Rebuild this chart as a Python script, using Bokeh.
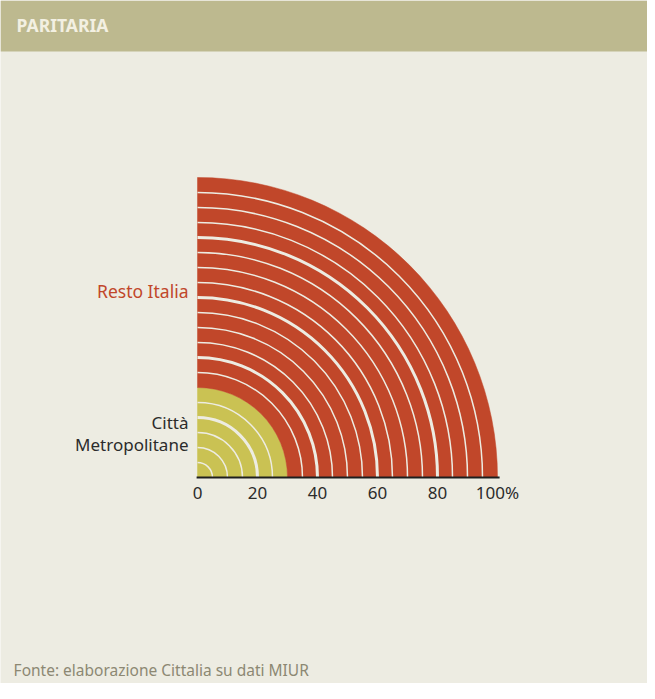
import math
from bokeh.plotting import figure
from bokeh.models import BoxAnnotation
from bokeh.core.properties import value
from bokeh.embed import file_html
from bokeh.resources import INLINE

# ---- data ----
categories = ["Città Metropolitane", "Resto Italia"]
shares = [30, 70]                      # percent
ring_step = 5                          # each ring = 5%
tick_values = [0, 20, 40, 60, 80, 100]
tick_labels = ["0", "20", "40", "60", "80", "100%"]
title_text = "PARITARIA"
source_text = "Fonte: elaborazione Cittalia su dati MIUR"

# ---- style ----
RED = "#C1472A"
YELLOW = "#CAC253"
BG = "#EDECE2"
HEADER = "#BDB98F"
HEADER_TXT = "#F3F0E2"
DARK = "#2B2B2B"
GREY = "#8C8873"
FONT = "Noto Sans"

W, H = 647, 683
# 3 px per percent, origin placed inside the canvas
x0, x1 = -197 / 3, 450 / 3
y0, y1 = -206 / 3, 477 / 3

p = figure(width=W, height=H, x_range=(x0, x1), y_range=(y0, y1),
           output_backend="svg", toolbar_location=None,
           x_axis_location=None, y_axis_location=None,
           min_border=0, outline_line_color=None,
           background_fill_color=BG, border_fill_color=BG)
p.grid.visible = False

# header band
p.add_layout(BoxAnnotation(bottom=142, fill_color=HEADER, fill_alpha=1,
                           line_alpha=0, level="underlay"))
p.text(x=[-60.3], y=[150.8], text=[title_text], text_font=value(FONT),
       text_font_style="bold", text_font_size="17.5px", text_color=HEADER_TXT,
       text_baseline="middle", text_align="left")

# rings
total = sum(shares)
cum = 0
inner, outer, colors = [], [], []
bounds = [0]
for s in shares:
    cum += s
    bounds.append(cum)
seg_colors = [YELLOW, RED]
r = 0
while r < total:
    inner.append(r)
    outer.append(r + ring_step)
    mid = r + ring_step / 2
    for i in range(len(shares)):
        if bounds[i] <= mid < bounds[i + 1]:
            colors.append(seg_colors[i])
    r += ring_step

p.annular_wedge(x=0, y=0, inner_radius=inner, outer_radius=outer,
                start_angle=0, end_angle=math.pi / 2,
                fill_color=colors, line_color=colors, line_width=0.5)

# separators between rings (none at the category boundary)
gap_r, gap_w = [], []
for rr in outer[:-1]:
    if rr in bounds:
        continue
    gap_r.append(rr)
    gap_w.append(3 if rr in tick_values else 1.5)
p.arc(x=0, y=0, radius=gap_r, start_angle=0, end_angle=math.pi / 2,
      line_color=BG, line_width=gap_w)

# baseline axis
p.segment(x0=[tick_values[0] - 0.3], y0=[0], x1=[tick_values[-1] + 0.7], y1=[0],
          line_color="#1E1E1E", line_width=2)
p.text(x=tick_values, y=[-5] * len(tick_values), text=tick_labels,
       text_font=value(FONT), text_font_size="17px", text_color=DARK,
       text_align="center", text_baseline="middle")

# category labels
p.text(x=[-3], y=[62.3], text=[categories[1]], text_font=value(FONT),
       text_font_size="17.5px", text_color=RED, text_align="right",
       text_baseline="middle")
p.text(x=[-3, -3], y=[18.5, 11], text=["Città", "Metropolitane"],
       text_font=value(FONT), text_font_size="17px", text_color=DARK,
       text_align="right", text_baseline="middle")

# source
p.text(x=[-61.3], y=[-64.3], text=[source_text], text_font=value(FONT),
       text_font_size="15.5px", text_color=GREY, text_align="left",
       text_baseline="middle")

open("out.html", "w").write(file_html(p, INLINE))
